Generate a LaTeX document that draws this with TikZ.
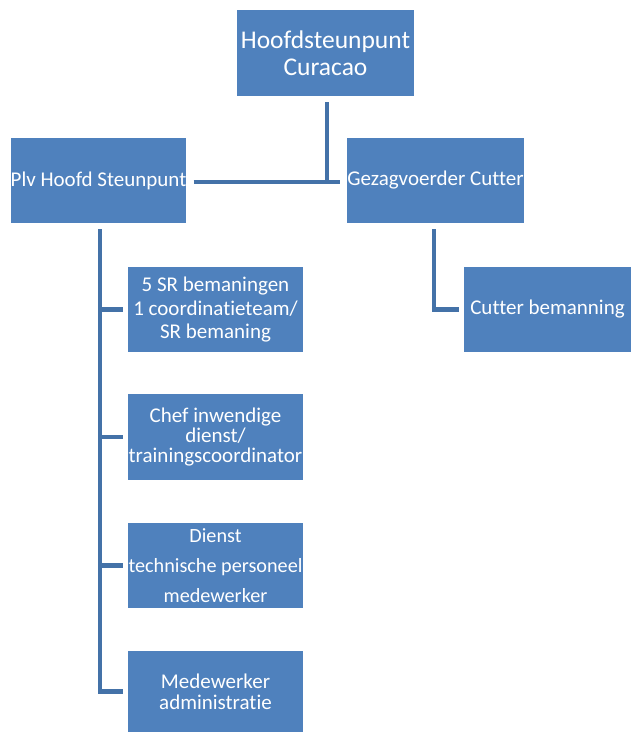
\documentclass[tikz,border=0pt]{standalone}
\usepackage{fontspec}
\setmainfont{Carlito}[Ligatures=NoCommon]
\usepackage{xcolor}
\usepackage{tikz}
\usetikzlibrary{positioning, calc}
\definecolor{boxblue}{HTML}{4F81BD}
\definecolor{lineblue}{HTML}{4472A8}

\begin{document}
\begin{tikzpicture}[x=1pt, y=-1pt, font=\fontsize{21}{23}\selectfont]
    \tikzstyle{unit}=[rectangle, fill=boxblue, text=white, minimum width=175pt, minimum height=85pt, align=center, inner sep=0pt]
    \tikzstyle{link}=[draw=lineblue, line width=4.5pt]
    \useasboundingbox (0,0) rectangle (631,732);

    \node[unit, minimum width=177pt, minimum height=86pt, font=\fontsize{25.5}{27}\selectfont] (hsp) at (325.5,53) {Hoofdsteunpunt\\Curacao};
    \node[unit] (plv) at (98.5,180.5) {Plv Hoofd Steunpunt};
    \node[unit] (gzv) at (435.5,180.5) {Gezagvoerder Cutter};
    \node[unit] (sr) at (215.5,309.5) {5 SR bemaningen\\[1pt] 1 coordinatieteam/\\SR bemaning};
    \node[unit, minimum height=86pt, font=\fontsize{21}{20}\selectfont] (chef) at (215.5,437) {Chef inwendige\\dienst/\\trainingscoordinator};
    \node[unit, font=\fontsize{20.2}{30}\selectfont] (dienst) at (215.5,565.5) {Dienst\\technische personeel\\medewerker};
    \node[unit, minimum height=81pt, font=\fontsize{21}{21}\selectfont] (adm) at (215.5,691.5) {Medewerker\\administratie};
    \node[unit, minimum width=167pt] (cut) at (547.5,309.5) {Cutter bemanning};

    \draw[link, shorten <=6pt] ($(hsp.south)+(1.5,0)$) -- ($(hsp.south |- plv.east)+(1.5,3.5)$);
    \draw[link, shorten <=7pt, shorten >=7pt] (plv.east) ++(0,1.5) -- ($(gzv.west)+(0,1.5)$);
    \draw[link, shorten <=6pt, shorten >=5pt] ($(plv.south)+(1.5,0)$) |- (sr.west);
    \draw[link, shorten <=6pt, shorten >=5pt] ($(plv.south)+(1.5,0)$) |- (chef.west);
    \draw[link, shorten <=6pt, shorten >=5pt] ($(plv.south)+(1.5,0)$) |- (dienst.west);
    \draw[link, shorten <=6pt, shorten >=5pt] ($(plv.south)+(1.5,0)$) |- (adm.west);
    \draw[link, shorten <=6pt, shorten >=5pt] ($(gzv.south)+(-1.5,0)$) |- (cut.west);
\end{tikzpicture}
\end{document}
